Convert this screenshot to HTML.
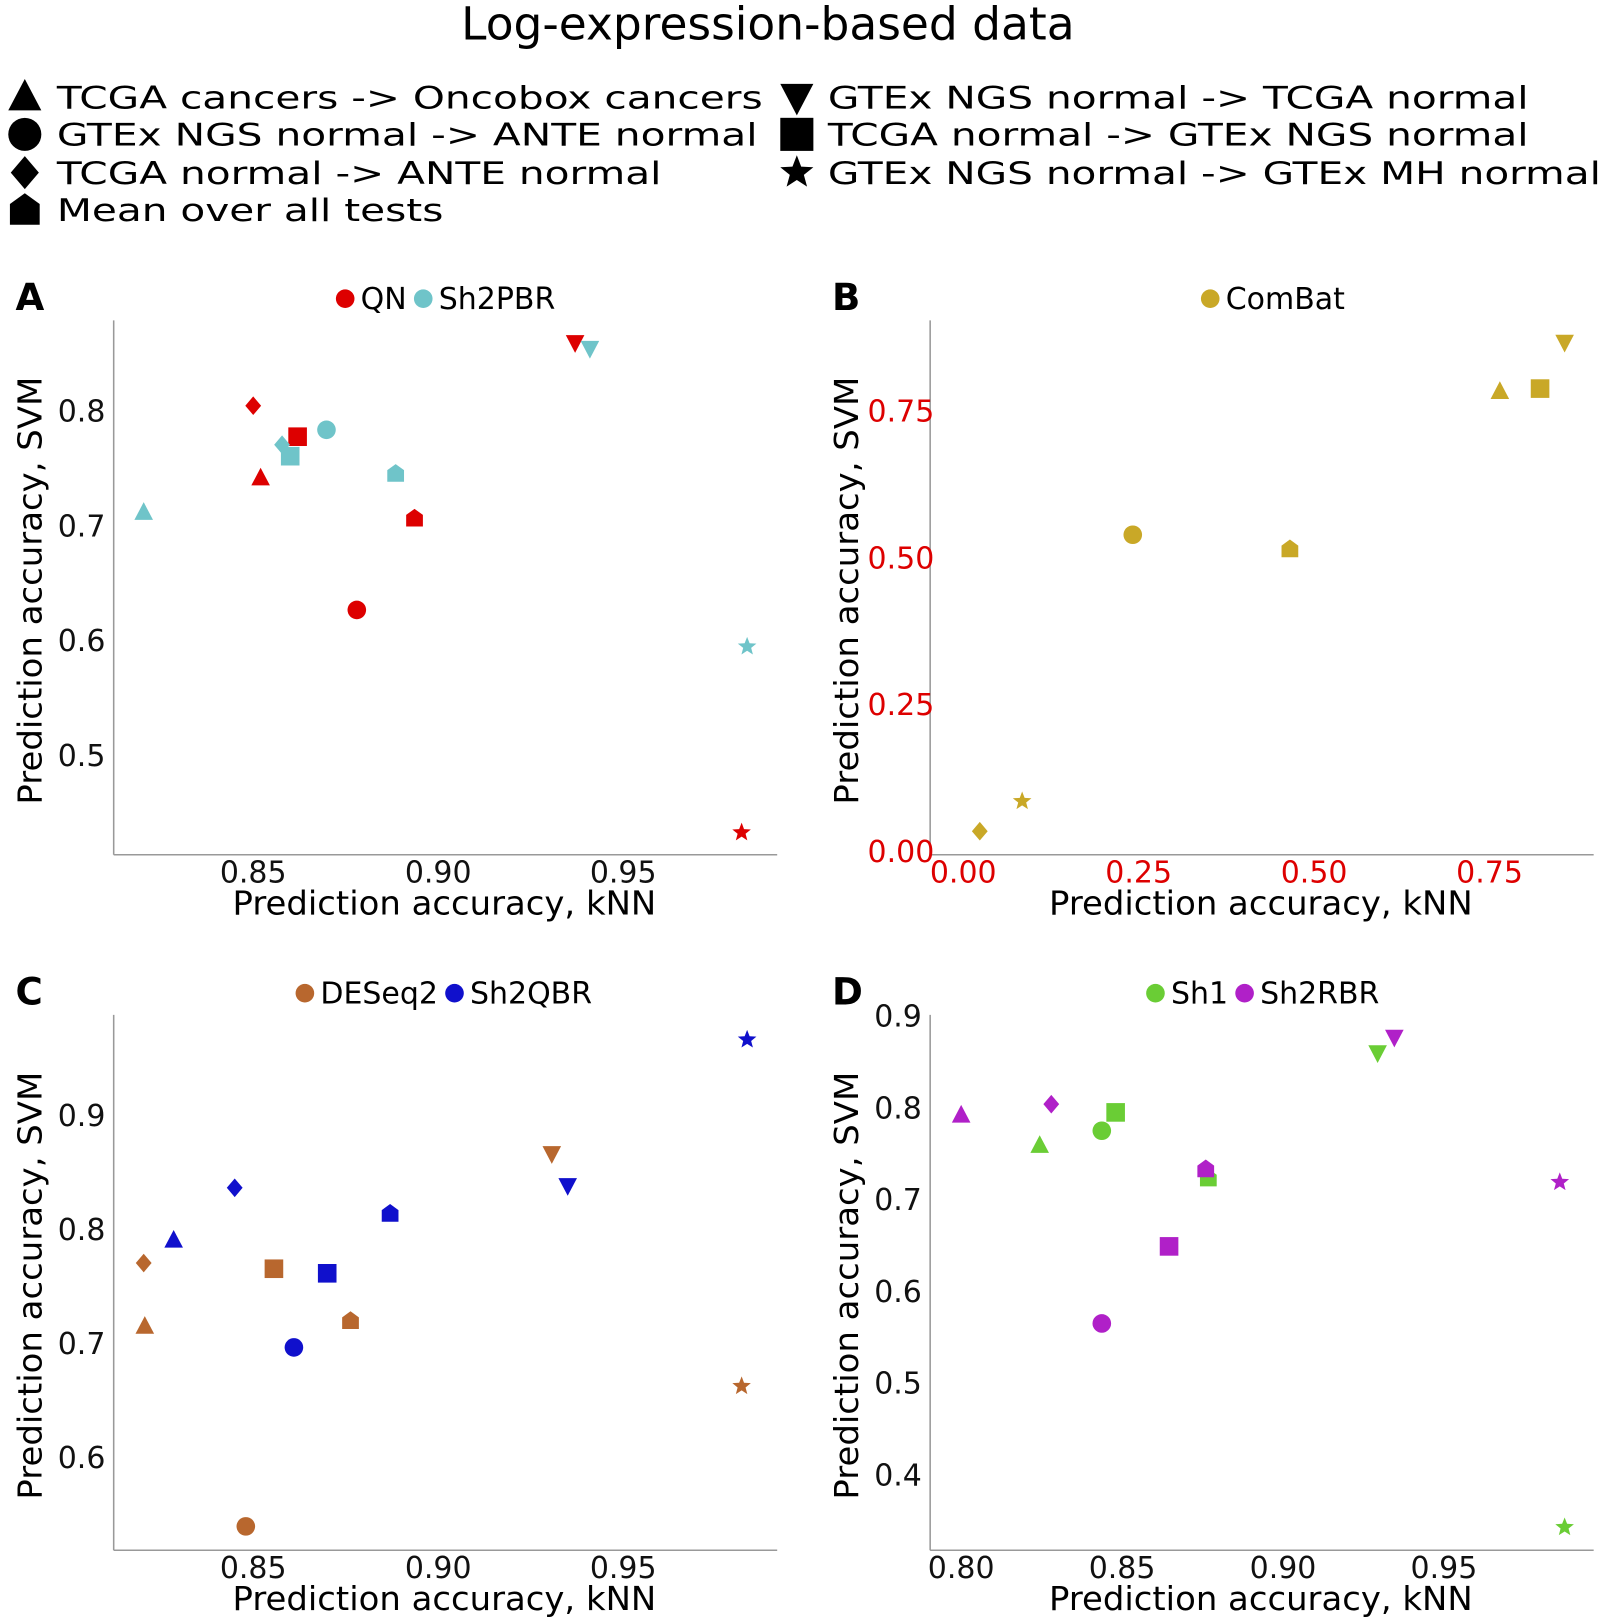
<!DOCTYPE html>
<html><head><meta charset="utf-8"><style>
html,body{margin:0;padding:0;background:#fff;}
svg{display:block;font-family:"DejaVu Sans","Liberation Sans",sans-serif;}
</style></head><body>
<svg id="fig" width="1604" height="1619" viewBox="0 0 1552 1566.5">
<text x="743" y="38" font-size="44" text-anchor="middle">Log-expression-based data</text>
<g id="legend"></g>
<g id="panels"></g>
</svg>
<script>
// ---- data ----
const shapes = ['tri','circle','diamond','down','square','star','mean'];
const legendLabels = ['TCGA cancers -> Oncobox cancers','GTEx NGS normal -> ANTE normal','TCGA normal -> ANTE normal','Mean over all tests','GTEx NGS normal -> TCGA normal','TCGA normal -> GTEx NGS normal','GTEx NGS normal -> GTEx MH normal'];
// A
const qnX = [0.852,0.878,0.850,0.937,0.862,0.982,0.8936];
const qnY = [0.741,0.626,0.804,0.859,0.777,0.432,0.706];
const sh2pbrX = [0.8204,0.8698,0.8578,0.941,0.860,0.9835,0.8885];
const sh2pbrY = [0.711,0.783,0.770,0.854,0.760,0.594,0.745];
// B
const combatX = [0.7647,0.2416,0.0236,0.857,0.822,0.084,0.4655];
const combatY = [0.782,0.538,0.033,0.866,0.787,0.084,0.514];
// C
const deseqX = [0.8207,0.848,0.8204,0.9307,0.8556,0.982,0.8763];
const deseqY = [0.7145,0.539,0.770,0.866,0.765,0.662,0.7195];
const sh2qbrX = [0.8285,0.861,0.845,0.935,0.870,0.9835,0.887];
const sh2qbrY = [0.790,0.696,0.836,0.838,0.761,0.966,0.8136];
// D
const sh1X = [0.8244,0.8437,null,0.9294,0.848,0.9875,0.8768];
const sh1Y = [0.758,0.774,null,0.859,0.794,0.342,0.7225];
const sh2rbrX = [0.800,0.8437,0.828,0.9346,0.8646,0.986,0.876];
const sh2rbrY = [0.791,0.564,0.803,0.876,0.648,0.718,0.7325];
const xTicksAC = ['0.85','0.90','0.95'];
const yTicksA = ['0.8','0.7','0.6','0.5'];
const xTicksB = ['0.00','0.25','0.50','0.75'];
const yTicksB = ['0.75','0.50','0.25','0.00'];
const yTicksC = ['0.9','0.8','0.7','0.6'];
const xTicksD = ['0.80','0.85','0.90','0.95'];
const yTicksD = ['0.9','0.8','0.7','0.6','0.5','0.4'];

const NS='http://www.w3.org/2000/svg';
function mk(tag,attrs,parent){const e=document.createElementNS(NS,tag);for(const k in attrs)e.setAttribute(k,attrs[k]);if(parent)parent.appendChild(e);return e;}
function marker(shape,cx,cy,r,color,parent){
  let e;
  if(shape==='circle') e=mk('circle',{cx:cx,cy:cy,r:r},parent);
  else if(shape==='square') e=mk('rect',{x:cx-r,y:cy-r,width:2*r,height:2*r},parent);
  else if(shape==='tri') e=mk('polygon',{points:`${cx},${cy-r*1.1} ${cx+r},${cy+r*0.8} ${cx-r},${cy+r*0.8}`},parent);
  else if(shape==='down') e=mk('polygon',{points:`${cx},${cy+r*1.1} ${cx+r},${cy-r*0.8} ${cx-r},${cy-r*0.8}`},parent);
  else if(shape==='diamond') e=mk('polygon',{points:`${cx},${cy-r} ${cx+r*0.85},${cy} ${cx},${cy+r} ${cx-r*0.85},${cy}`},parent);
  else if(shape==='mean') e=mk('polygon',{points:`${cx},${cy-r} ${cx+r*0.9},${cy-r*0.35} ${cx+r*0.9},${cy+r*0.9} ${cx-r*0.9},${cy+r*0.9} ${cx-r*0.9},${cy-r*0.35}`},parent);
  else { let p=[];for(let i=0;i<10;i++){const a=-Math.PI/2+i*Math.PI/5;const rr=i%2?r*0.45:r*1.05;p.push((cx+rr*Math.cos(a)).toFixed(1)+','+(cy+rr*Math.sin(a)).toFixed(1));} e=mk('polygon',{points:p.join(' ')},parent);}
  e.setAttribute('fill',color);
  return e;
}
const svg=document.getElementById('fig');
// shape legend
const lg=document.getElementById('legend');
const legPos=[[24,104,55,683],[24,140,55,678],[24,177,55,585],[24,213,55,374],[771,104,801,678],[771,140,801,678],[771,177,801,748]];
const legShape=['tri','circle','diamond','mean','down','square','star'];
legPos.forEach((p,i)=>{
  const g=mk('g',{},lg);
  
  
  marker(legShape[i],p[0],p[1]-10,16,'#000',g);
  const t=mk('text',{x:p[2],y:p[1]+1,'font-size':30,textLength:p[3],lengthAdjust:'spacingAndGlyphs'},g);
  t.textContent=legendLabels[i];
});

function panel(cfg){
  const g=mk('g',{},svg);
  
  
  const X=v=>cfg.x0px+(v-cfg.x0)*cfg.xs, Y=v=>cfg.y0px-(v-cfg.y0)*cfg.ys;
  const lt=mk('text',{x:cfg.ax-95,y:cfg.top-10,'font-size':36,'font-weight':'bold'},g);lt.textContent=cfg.letter;
  
  
  mk('line',{x1:cfg.ax,y1:cfg.top,x2:cfg.ax,y2:cfg.bot,stroke:'#999','stroke-width':1.5},g);
  mk('line',{x1:cfg.ax,y1:cfg.bot,x2:cfg.ax+642,y2:cfg.bot,stroke:'#999','stroke-width':1.5},g);
  cfg.xt.forEach(t=>{const tt=mk('text',{x:X(parseFloat(t)),y:cfg.bot+27,'font-size':29,'text-anchor':'middle',fill:cfg.tc},g);tt.textContent=t;
    
    });
  cfg.yt.forEach(t=>{const tt=mk('text',{x:cfg.ax-8+cfg.yOff,y:Y(parseFloat(t))+11,'font-size':29,'text-anchor':'end',fill:cfg.tc},g);tt.textContent=t;
    
    });
  const xl=mk('text',{x:cfg.ax+320,y:cfg.bot+58,'font-size':32,'text-anchor':'middle',textLength:410,lengthAdjust:'spacingAndGlyphs'},g);xl.textContent='Prediction accuracy, kNN';
  
  
  const cy=(cfg.top+cfg.bot)/2+3;
  const yl=mk('text',{x:0,y:0,'font-size':32,'text-anchor':'middle',textLength:414,lengthAdjust:'spacingAndGlyphs',transform:`translate(${cfg.ax-70},${cy}) rotate(-90)`},g);yl.textContent='Prediction accuracy, SVM';
  
  
  let lx=cfg.legX;
  cfg.series.forEach(s=>{
    const le=mk('g',{},g);
    
    
    marker('circle',lx,cfg.top-21,9,s.color,le);
    const t=mk('text',{x:lx+15,y:cfg.top-11,'font-size':29},le);t.textContent=s.name;
    lx+=15+t.getComputedTextLength()+16;
  });
  cfg.series.forEach(s=>{
    s.xs.forEach((v,i)=>{ if(v==null)return;
      const m=marker(shapes[i],X(v),Y(s.ys[i]),9,s.color,g);
      
      
    });
  });
}
panel({letter:'A',ax:110,top:310,bot:827,x0:0.85,x0px:245,xs:3580,y0:0.8,y0px:397,ys:1110,xt:xTicksAC,yt:yTicksA,tc:'#111',legX:334,yOff:0,
  series:[{name:'QN',color:'#dd0000',xs:qnX,ys:qnY},{name:'Sh2PBR',color:'#6fc4c9',xs:sh2pbrX,ys:sh2pbrY}]});
panel({letter:'B',ax:900,top:310,bot:827,x0:0,x0px:932,xs:679,y0:0,y0px:823,ys:568,xt:xTicksB,yt:yTicksB,tc:'#dd0000',legX:1171,yOff:12,
  series:[{name:'ComBat',color:'#c9a827',xs:combatX,ys:combatY}]});
panel({letter:'C',ax:110,top:982,bot:1500,x0:0.85,x0px:245,xs:3580,y0:0.8,y0px:1189,ys:1103,xt:xTicksAC,yt:yTicksC,tc:'#111',legX:295,yOff:0,
  series:[{name:'DESeq2',color:'#b8672e',xs:deseqX,ys:deseqY},{name:'Sh2QBR',color:'#1010cc',xs:sh2qbrX,ys:sh2qbrY}]});
panel({letter:'D',ax:900,top:982,bot:1500,x0:0.8,x0px:930,xs:3114,y0:0.8,y0px:1071,ys:888,xt:xTicksD,yt:yTicksD,tc:'#111',legX:1118,yOff:0,
  series:[{name:'Sh1',color:'#6acd35',xs:sh1X,ys:sh1Y},{name:'Sh2RBR',color:'#b020c8',xs:sh2rbrX,ys:sh2rbrY}]});
</script>
</body></html>
